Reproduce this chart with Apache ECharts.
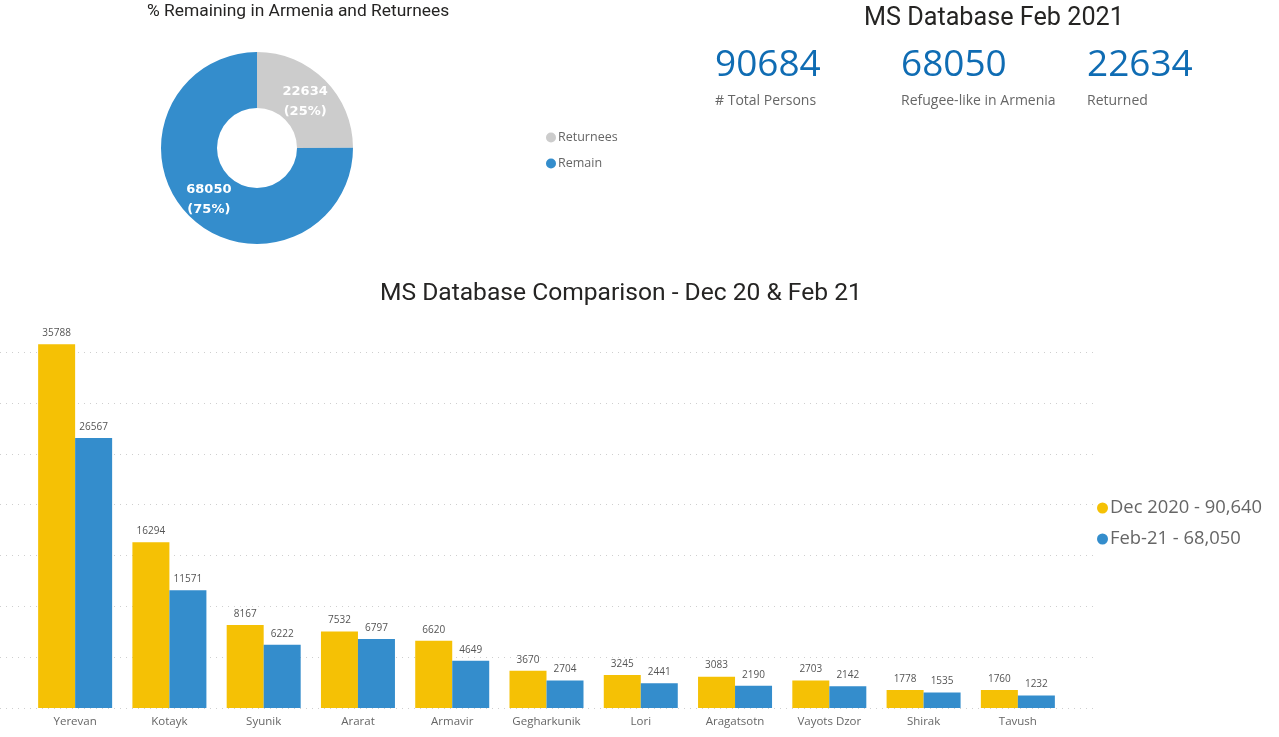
<!DOCTYPE html>
<html>
<head>
<meta charset="utf-8">
<title>MS Database Feb 2021</title>
<script src="https://cdn.jsdelivr.net/npm/echarts@6/dist/echarts.min.js"></script>
<style>
    html, body { margin: 0; padding: 0; background: #fff; }
    #chart { width: 1279px; height: 737px; }
</style>
</head>
<body>
<div id="chart"></div>
<script>
// Bar chart data
const regions = ["Yerevan", "Kotayk", "Syunik", "Ararat", "Armavir", "Gegharkunik", "Lori", "Aragatsotn", "Vayots Dzor", "Shirak", "Tavush"];
const dec2020 = [35788, 16294, 8167, 7532, 6620, 3670, 3245, 3083, 2703, 1778, 1760];
const feb2021 = [26567, 11571, 6222, 6797, 4649, 2704, 2441, 2190, 2142, 1535, 1232];
const barSeriesNames = ["Dec 2020 - 90,640", "Feb-21 - 68,050"];

// Donut data
const donutNames = ["Returnees", "Remain"];
const donutValues = [22634, 68050];
const donutPercents = [25, 75];

// KPI cards
const kpiValues = ["90684", "68050", "22634"];
const kpiLabels = ["# Total Persons", "Refugee-like in Armenia", "Returned"];
const kpiLefts = [715, 901, 1087];

const YELLOW = "#F5C105";
const BLUE = "#348DCC";
const GRAY = "#CCCCCC";
const TITLE_FONT = "Roboto";
const BODY_FONT = "Open Sans";

const titles = [
    { text: "% Remaining in Armenia and Returnees", left: 147, top: 3, padding: 0, textStyle: { fontSize: 17.4, fontWeight: "normal", color: "#252423", fontFamily: TITLE_FONT } },
    { text: "MS Database Feb 2021", left: 864, top: 6, padding: 0, textStyle: { fontSize: 25.2, fontWeight: "normal", color: "#252423", fontFamily: TITLE_FONT } },
    { text: "MS Database Comparison - Dec 20 & Feb 21", left: 380, top: 281, padding: 0, textStyle: { fontSize: 24.6, fontWeight: "normal", color: "#252423", fontFamily: TITLE_FONT } }
];

// KPI cards are placed as plain titles
kpiValues.forEach((value, i) => {
    titles.push({ text: value, left: kpiLefts[i], top: 47, padding: 0, textStyle: { fontSize: 37, fontWeight: "normal", color: "#0F6CB3", fontFamily: BODY_FONT } });
    titles.push({ text: kpiLabels[i], left: kpiLefts[i], top: 94, padding: 0, textStyle: { fontSize: 14, fontWeight: "normal", color: "#666666", fontFamily: BODY_FONT } });
});

const barLabel = {
    show: true,
    position: "top",
    distance: 6,
    fontSize: 10,
    color: "#555555",
    fontFamily: BODY_FONT
};

// Labels in the donut do not sit exactly on the ring middle
const donutLabelOffsets = [[-2, 4], [2, 1]];

const chart = echarts.init(document.getElementById("chart"));
chart.setOption({
    animation: false,
    backgroundColor: "#fff",
    title: titles,
    legend: [
        {
            data: donutNames,
            orient: "vertical",
            left: 546,
            top: 131,
            padding: 0,
            itemGap: 13,
            itemWidth: 10,
            itemHeight: 10,
            icon: "circle",
            textStyle: { fontSize: 12.5, color: "#666666", fontFamily: BODY_FONT, padding: [0, 0, 0, -3] }
        },
        {
            data: barSeriesNames,
            orient: "vertical",
            left: 1097,
            top: 499,
            padding: 0,
            itemGap: 13,
            itemWidth: 11,
            itemHeight: 11,
            icon: "circle",
            textStyle: { fontSize: 18.4, color: "#666666", fontFamily: BODY_FONT, padding: [0, 0, 0, -3] }
        }
    ],
    grid: [
        { left: 28, width: 1037, top: 342, height: 366 },
        // Second grid only draws the dotted lines across the whole width
        { left: 0, width: 1095, top: 342, height: 366 }
    ],
    xAxis: [
        {
            type: "category",
            gridIndex: 0,
            data: regions,
            axisLine: { show: false },
            axisTick: { show: false },
            axisLabel: { fontSize: 11.5, color: "#666666", fontFamily: BODY_FONT, margin: 8, interval: 0 }
        },
        { type: "value", gridIndex: 1, min: 0, max: 1, show: false }
    ],
    yAxis: [
        { type: "value", gridIndex: 0, min: 0, max: 36000, show: false, splitLine: { show: false } },
        {
            type: "value",
            gridIndex: 1,
            min: 0,
            max: 36000,
            interval: 5000,
            axisLabel: { show: false },
            axisLine: { show: false },
            axisTick: { show: false },
            splitLine: { show: true, showMaxLine: false, lineStyle: { color: "#CFCFCF", type: [1, 5], width: 1 } }
        }
    ],
    series: [
        {
            name: barSeriesNames[0],
            type: "bar",
            xAxisIndex: 0,
            yAxisIndex: 0,
            data: dec2020,
            barWidth: 37,
            barGap: 0,
            itemStyle: { color: YELLOW },
            label: barLabel
        },
        {
            name: barSeriesNames[1],
            type: "bar",
            xAxisIndex: 0,
            yAxisIndex: 0,
            data: feb2021,
            barWidth: 37,
            barGap: 0,
            itemStyle: { color: BLUE },
            label: barLabel
        },
        {
            type: "pie",
            center: [257, 148],
            radius: [40, 96],
            startAngle: 90,
            clockwise: true,
            data: donutNames.map((name, i) => ({
                name: name,
                value: donutValues[i],
                itemStyle: { color: i === 0 ? GRAY : BLUE },
                label: { offset: donutLabelOffsets[i] }
            })),
            label: {
                show: true,
                position: "inside",
                formatter: (p) => `${p.value}\n(${donutPercents[p.dataIndex]}%)`,
                color: "#fff",
                fontSize: 13,
                fontWeight: "bold",
                lineHeight: 20,
                fontFamily: "DejaVu Sans"
            },
            labelLine: { show: false }
        }
    ]
});
</script>
</body>
</html>
